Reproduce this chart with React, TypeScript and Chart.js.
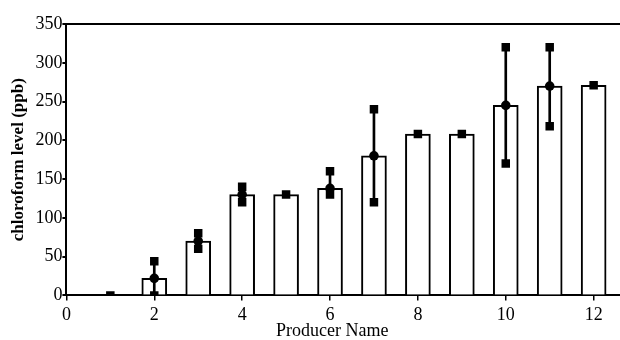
import React, { useEffect, useRef } from "react";
import { Chart, registerables } from "chart.js";

Chart.register(...registerables);

const producers = [1, 2, 3, 4, 5, 6, 7, 8, 9, 10, 11, 12];
const means = [0, 22, 70, 130, 130, 138, 180, 208, 208, 245, 270, 271];
const highs = [0, 44, 80, 140, 130, 160, 240, 208, 208, 320, 320, 271];
const lows = [0, 0, 60, 120, 130, 130, 120, 208, 208, 170, 218, 271];
const hasReplicates = [false, true, true, true, false, true, true, false, false, true, true, false];
const yTicks = [0, 50, 100, 150, 200, 250, 300, 350];
const xTicks = [0, 2, 4, 6, 8, 10, 12];
const xTitle = "Producer Name";
const yTitle = "chloroform level (ppb)";

const FONT = "'Liberation Serif', 'Times New Roman', serif";

const xTitlePlugin = {
  id: "xTitlePlugin",
  afterDraw(chart: any) {
    const { ctx, scales } = chart;
    const x = scales.x;
    ctx.save();
    ctx.fillStyle = "#000000";
    ctx.font = `18px ${FONT}`;
    ctx.textAlign = "center";
    ctx.textBaseline = "middle";
    ctx.fillText(xTitle, x.getPixelForValue(6.05), chart.height - 9);
    ctx.restore();
  },
};

export default function App() {
  const ref = useRef<HTMLCanvasElement>(null);
  useEffect(() => {
    const squares: { x: number; y: number }[] = [];
    producers.forEach((p, i) => {
      squares.push({ x: p, y: highs[i] });
      if (lows[i] !== highs[i]) squares.push({ x: p, y: lows[i] });
    });
    const circles = producers
      .map((p, i) => ({ x: p, y: means[i] }))
      .filter((_, i) => hasReplicates[i]);
    const chart = new Chart(ref.current!, {
      type: "bar",
      data: {
        datasets: [
          {
            type: "bar",
            data: producers.map((p, i) => ({ x: p, y: means[i] })),
            backgroundColor: "#ffffff",
            borderColor: "#000000",
            borderWidth: 2,
            barThickness: 25,
            grouped: false,
            order: 4,
          } as any,
          {
            type: "bar",
            data: producers.map((p, i) => ({ x: p, y: [lows[i], highs[i]] })),
            backgroundColor: "#000000",
            borderWidth: 0,
            barThickness: 2,
            grouped: false,
            order: 3,
          } as any,
          {
            type: "scatter",
            data: squares,
            pointStyle: "rect",
            pointRadius: 6,
            backgroundColor: "#000000",
            borderColor: "#000000",
            borderWidth: 0,
            order: 2,
          } as any,
          {
            type: "scatter",
            data: circles,
            pointStyle: "circle",
            pointRadius: 4.8,
            backgroundColor: "#000000",
            borderColor: "#000000",
            borderWidth: 0,
            order: 1,
          } as any,
        ],
      },
      options: {
        animation: false,
        responsive: false,
        maintainAspectRatio: false,
        layout: { autoPadding: false, padding: { top: 24, right: 0, left: 8, bottom: 10 } },
        plugins: { legend: { display: false }, tooltip: { enabled: false } },
        scales: {
          x: {
            type: "linear",
            min: 0,
            max: 12.6,
            offset: false,
            afterBuildTicks: (s: any) => {
              s.ticks = xTicks.map((v) => ({ value: v }));
            },
            afterFit: (s: any) => {
              s.paddingRight = 0;
            },
            grid: {
              offset: false,
              drawOnChartArea: false,
              drawTicks: true,
              tickLength: 5,
              color: "#000000",
              lineWidth: 1.5,
            },
            border: { display: true, color: "#000000", width: 2 },
            ticks: {
              color: "#000000",
              font: { family: FONT, size: 18 },
              padding: 4,
              maxRotation: 0,
            },
            title: { display: false },
          },
          y: {
            type: "linear",
            min: 0,
            max: 350,
            afterBuildTicks: (s: any) => {
              s.ticks = yTicks.map((v) => ({ value: v }));
            },
            grid: {
              drawOnChartArea: true,
              drawTicks: true,
              tickLength: 4,
              color: (c: any) => (c.tick && c.tick.value === 350 ? "#000000" : "rgba(0,0,0,0)"),
              tickColor: "#000000",
              lineWidth: 2,
            },
            border: { display: true, color: "#000000", width: 2 },
            ticks: {
              color: "#000000",
              font: { family: FONT, size: 18 },
              padding: 0,
            },
            title: {
              display: true,
              text: yTitle,
              color: "#000000",
              font: { family: FONT, size: 17, weight: "bold" },
              padding: { top: 0, bottom: 7 },
            },
          },
        },
      },
      plugins: [xTitlePlugin],
    });
    return () => chart.destroy();
  }, []);
  return (
    <div style={{ position: "fixed", left: 0, top: 0, width: 620, height: 340, background: "#fff" }}>
      <canvas ref={ref} width={620} height={340} style={{ width: 620, height: 340 }} />
    </div>
  );
}
